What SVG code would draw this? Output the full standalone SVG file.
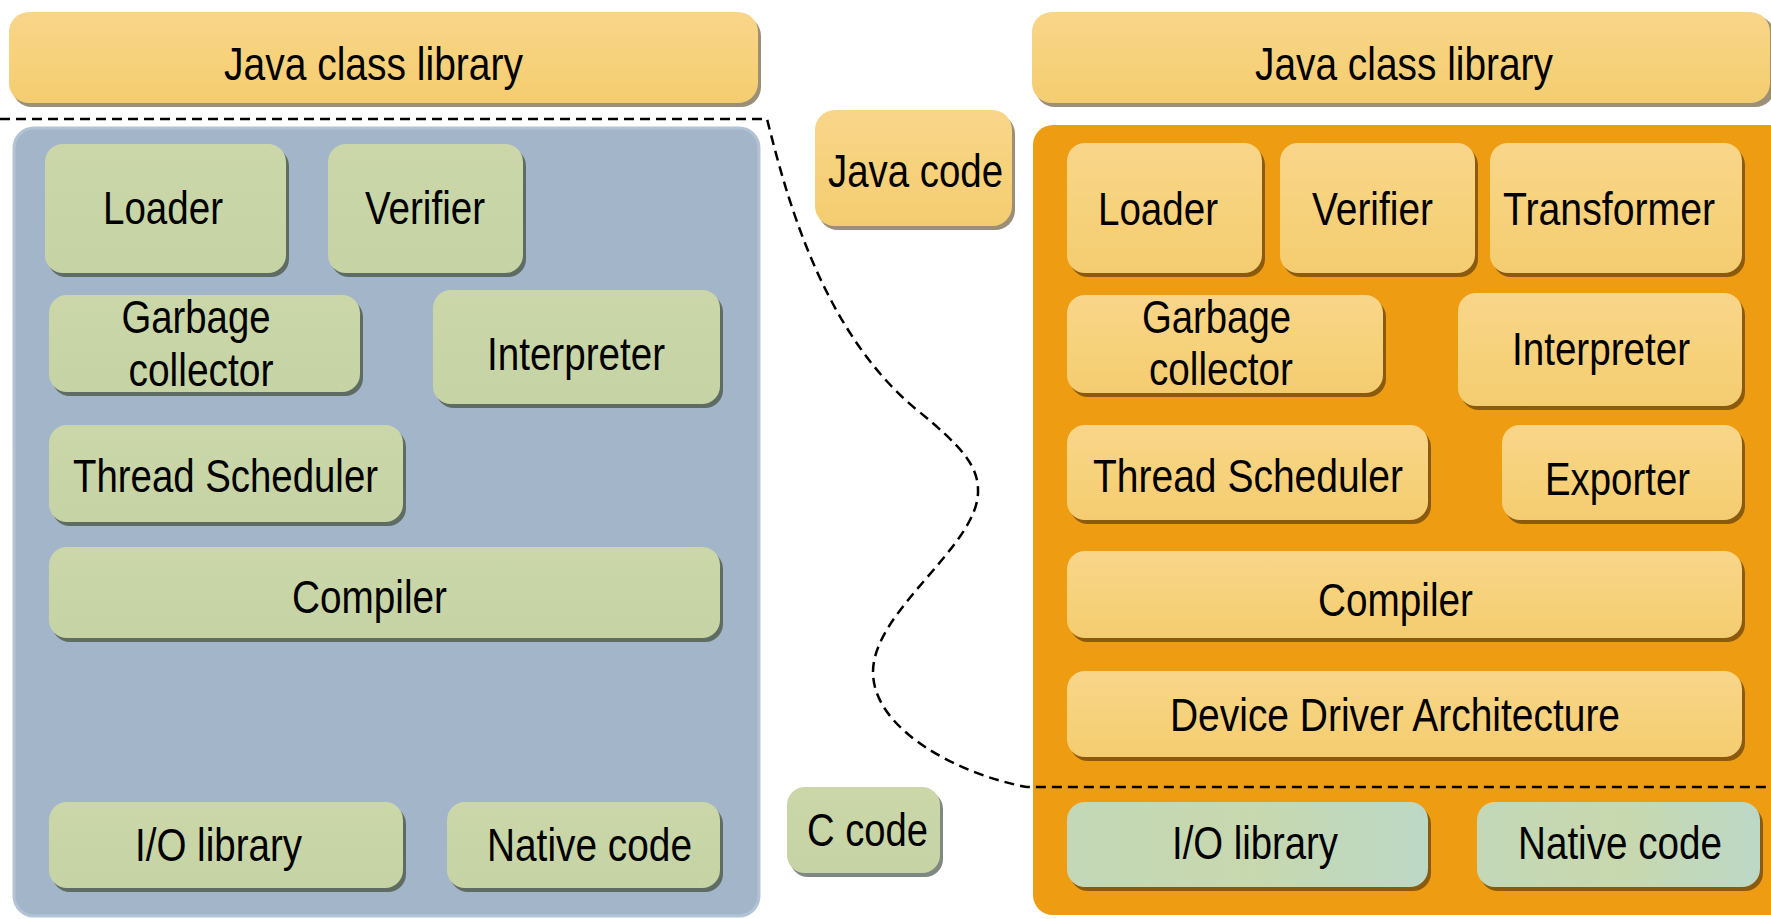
<svg xmlns="http://www.w3.org/2000/svg" width="1771" height="919" viewBox="0 0 1771 919">
<defs>
<linearGradient id="gY" x1="0" y1="0" x2="0" y2="1">
<stop offset="0" stop-color="#F8D58A"/><stop offset="0.5" stop-color="#F7D27C"/><stop offset="1" stop-color="#F4CC70"/>
</linearGradient>
<linearGradient id="gG" x1="0" y1="0" x2="0" y2="1">
<stop offset="0" stop-color="#CBD7A9"/><stop offset="1" stop-color="#C6D3A5"/>
</linearGradient>
<linearGradient id="gT" x1="0" y1="0" x2="1" y2="0">
<stop offset="0" stop-color="#C3D8B8"/><stop offset="0.5" stop-color="#C8D8AE"/><stop offset="1" stop-color="#BCD8C6"/>
</linearGradient>
</defs>
<style>
text{font-family:"Liberation Sans",Arial,sans-serif;font-size:46px;fill:#000;text-anchor:middle}
.y{fill:url(#gY)}
.g{fill:url(#gG)}
.t{fill:url(#gT)}
.sw{fill:#9C8F78}
.sg{fill:#5F6C63}
.so{fill:#8C5A0C}
.cb{fill:#A3B5C8;stroke:#B3C3D6;stroke-width:3}
.co{fill:#EE9C12}
.dash{fill:none;stroke:#000;stroke-width:2.5;stroke-dasharray:10 6}
</style>
<rect width="1771" height="919" fill="#FFFFFF"/>

<g id="jcl-left">
<rect class="sw" x="12" y="16" width="749" height="91" rx="20"/>
<rect class="y" x="9" y="12" width="749" height="91" rx="20"/>
<text x="373.5" y="80" textLength="299" lengthAdjust="spacingAndGlyphs">Java class library</text>
</g>

<g id="vm-left">
<rect class="cb" x="14" y="128" width="745" height="788" rx="20"/>
</g>

<g id="loader-left">
<rect class="sg" x="48" y="148" width="241" height="129" rx="18"/>
<rect class="g" x="45" y="144" width="241" height="129" rx="18"/>
<text x="163" y="224" textLength="120" lengthAdjust="spacingAndGlyphs">Loader</text>
</g>
<g id="verifier-left">
<rect class="sg" x="331" y="148" width="195" height="129" rx="18"/>
<rect class="g" x="328" y="144" width="195" height="129" rx="18"/>
<text x="425" y="224" textLength="120" lengthAdjust="spacingAndGlyphs">Verifier</text>
</g>
<g id="gc-left">
<rect class="sg" x="52" y="299" width="311" height="97" rx="18"/>
<rect class="g" x="49" y="295" width="311" height="97" rx="18"/>
<text x="196" y="333" textLength="149" lengthAdjust="spacingAndGlyphs">Garbage</text>
<text x="201" y="386" textLength="145" lengthAdjust="spacingAndGlyphs">collector</text>
</g>
<g id="interpreter-left">
<rect class="sg" x="436" y="294" width="287" height="114" rx="18"/>
<rect class="g" x="433" y="290" width="287" height="114" rx="18"/>
<text x="576" y="370" textLength="178" lengthAdjust="spacingAndGlyphs">Interpreter</text>
</g>
<g id="thread-left">
<rect class="sg" x="52" y="429" width="354" height="97" rx="18"/>
<rect class="g" x="49" y="425" width="354" height="97" rx="18"/>
<text x="225.5" y="492" textLength="305" lengthAdjust="spacingAndGlyphs">Thread Scheduler</text>
</g>
<g id="compiler-left">
<rect class="sg" x="52" y="551" width="671" height="91" rx="18"/>
<rect class="g" x="49" y="547" width="671" height="91" rx="18"/>
<text x="369.5" y="613" textLength="155" lengthAdjust="spacingAndGlyphs">Compiler</text>
</g>
<g id="io-left">
<rect class="sg" x="52" y="806" width="354" height="86" rx="18"/>
<rect class="g" x="49" y="802" width="354" height="86" rx="18"/>
<text x="218.5" y="861" textLength="167" lengthAdjust="spacingAndGlyphs">I/O library</text>
</g>
<g id="native-left">
<rect class="sg" x="450" y="806" width="273" height="86" rx="18"/>
<rect class="g" x="447" y="802" width="273" height="86" rx="18"/>
<text x="589.5" y="861" textLength="205" lengthAdjust="spacingAndGlyphs">Native code</text>
</g>

<g id="java-code">
<rect class="sw" x="818" y="114" width="197" height="116" rx="20"/>
<rect class="y" x="815" y="110" width="197" height="116" rx="20"/>
<text x="915.5" y="187" textLength="175" lengthAdjust="spacingAndGlyphs">Java code</text>
</g>
<g id="c-code">
<rect class="sg" x="790" y="791" width="153" height="86" rx="18" opacity="0.8"/>
<rect class="g" x="787" y="787" width="153" height="86" rx="18"/>
<text x="867.5" y="846" textLength="121" lengthAdjust="spacingAndGlyphs">C code</text>
</g>

<g id="jcl-right">
<rect class="sw" x="1035" y="16" width="740" height="91" rx="20"/>
<rect class="y" x="1032" y="12" width="738" height="91" rx="20"/>
<text x="1404" y="80" textLength="298" lengthAdjust="spacingAndGlyphs">Java class library</text>
</g>

<g id="vm-right">
<rect class="co" x="1033" y="125" width="760" height="790" rx="20"/>
</g>

<g id="loader-right">
<rect class="so" x="1070" y="147" width="195" height="130" rx="18"/>
<rect class="y" x="1067" y="143" width="195" height="130" rx="18"/>
<text x="1158" y="225" textLength="120" lengthAdjust="spacingAndGlyphs">Loader</text>
</g>
<g id="verifier-right">
<rect class="so" x="1283" y="147" width="195" height="130" rx="18"/>
<rect class="y" x="1280" y="143" width="195" height="130" rx="18"/>
<text x="1372.5" y="225" textLength="121" lengthAdjust="spacingAndGlyphs">Verifier</text>
</g>
<g id="transformer-right">
<rect class="so" x="1493" y="147" width="252" height="130" rx="18"/>
<rect class="y" x="1490" y="143" width="252" height="130" rx="18"/>
<text x="1609" y="225" textLength="212" lengthAdjust="spacingAndGlyphs">Transformer</text>
</g>
<g id="gc-right">
<rect class="so" x="1070" y="299" width="316" height="98" rx="18"/>
<rect class="y" x="1067" y="295" width="316" height="98" rx="18"/>
<text x="1216.5" y="333" textLength="149" lengthAdjust="spacingAndGlyphs">Garbage</text>
<text x="1221" y="385" textLength="144" lengthAdjust="spacingAndGlyphs">collector</text>
</g>
<g id="interpreter-right">
<rect class="so" x="1461" y="297" width="284" height="113" rx="18"/>
<rect class="y" x="1458" y="293" width="284" height="113" rx="18"/>
<text x="1601" y="365" textLength="178" lengthAdjust="spacingAndGlyphs">Interpreter</text>
</g>
<g id="thread-right">
<rect class="so" x="1070" y="429" width="361" height="95" rx="18"/>
<rect class="y" x="1067" y="425" width="361" height="95" rx="18"/>
<text x="1248" y="492" textLength="310" lengthAdjust="spacingAndGlyphs">Thread Scheduler</text>
</g>
<g id="exporter-right">
<rect class="so" x="1505" y="429" width="240" height="95" rx="18"/>
<rect class="y" x="1502" y="425" width="240" height="95" rx="18"/>
<text x="1617.5" y="495" textLength="145" lengthAdjust="spacingAndGlyphs">Exporter</text>
</g>
<g id="compiler-right">
<rect class="so" x="1070" y="555" width="675" height="87" rx="18"/>
<rect class="y" x="1067" y="551" width="675" height="87" rx="18"/>
<text x="1395.5" y="616" textLength="155" lengthAdjust="spacingAndGlyphs">Compiler</text>
</g>
<g id="dda-right">
<rect class="so" x="1070" y="675" width="675" height="86" rx="18"/>
<rect class="y" x="1067" y="671" width="675" height="86" rx="18"/>
<text x="1395" y="731" textLength="450" lengthAdjust="spacingAndGlyphs">Device Driver Architecture</text>
</g>
<g id="io-right">
<rect class="so" x="1070" y="806" width="361" height="85" rx="18"/>
<rect class="t" x="1067" y="802" width="361" height="85" rx="18"/>
<text x="1255" y="859" textLength="166" lengthAdjust="spacingAndGlyphs">I/O library</text>
</g>
<g id="native-right">
<rect class="so" x="1480" y="806" width="283" height="85" rx="18"/>
<rect class="t" x="1477" y="802" width="283" height="85" rx="18"/>
<text x="1620" y="859" textLength="204" lengthAdjust="spacingAndGlyphs">Native code</text>
</g>

<g id="connectors">
<path class="dash" d="M0,119 H767 C785,190 820,330 917,410 C960,445 978,465 978,490 C980,545 873,610 873,672 C873,730 960,775 1027,787 H1771"/>
</g>
</svg>
